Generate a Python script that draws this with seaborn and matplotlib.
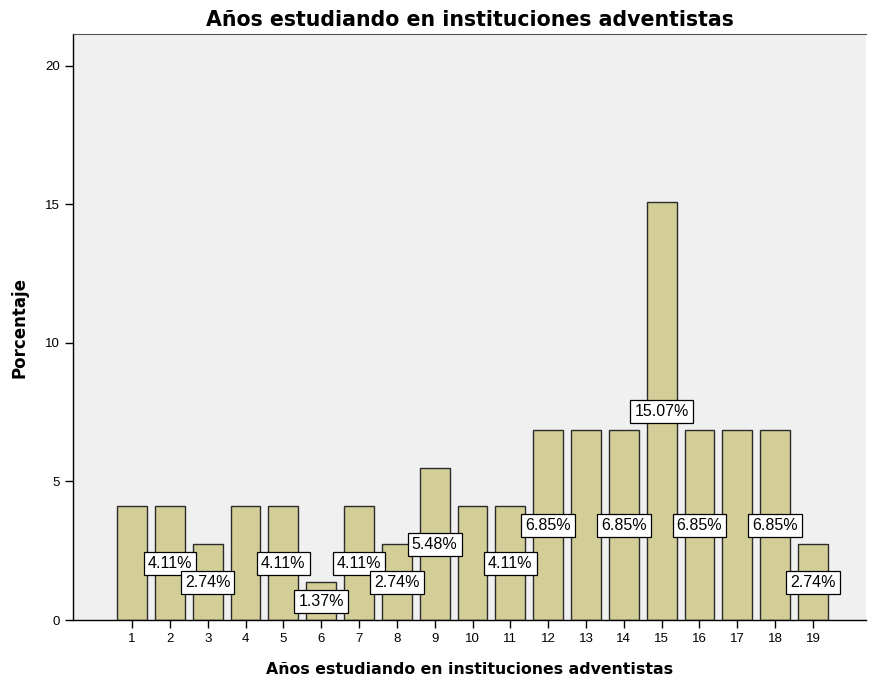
import matplotlib
matplotlib.use("Agg")
import matplotlib.pyplot as plt
import seaborn as sns
import pandas as pd

# datos
anios = [str(i) for i in range(1, 20)]
porcentaje = [4.11, 4.11, 2.74, 4.11, 4.11, 1.37, 4.11, 2.74, 5.48, 4.11,
              4.11, 6.85, 6.85, 6.85, 15.07, 6.85, 6.85, 6.85, 2.74]
# etiquetas que SPSS dejo visibles
con_etiqueta = ["2", "3", "5", "6", "7", "8", "9", "11", "12", "14",
                "15", "16", "18", "19"]

df = pd.DataFrame({"anios": anios, "porcentaje": porcentaje})

sns.set_style("white")
plt.rcParams["font.family"] = ["Liberation Sans", "DejaVu Sans"]
plt.rcParams["text.color"] = "black"
plt.rcParams["axes.labelcolor"] = "black"

fig = plt.figure(figsize=(8.69, 6.86), dpi=100)
ax = fig.add_axes([0.084, 0.0962, 0.9125, 0.8542])
ax.set_facecolor("#F0F0F0")

sns.barplot(data=df, x="anios", y="porcentaje", color="#D3CE97",
            saturation=1, width=0.79, edgecolor="#2b2b2b", linewidth=1,
            ax=ax)

for i, (a, v) in enumerate(zip(anios, porcentaje)):
    if a in con_etiqueta:
        ax.text(i, v / 2, f"{v:.2f}%", ha="center", va="center", fontsize=11.5,
                color="black",
                bbox=dict(boxstyle="square,pad=0.25", fc="white", ec="black", lw=0.9))

ax.set_xlim(-1.56, 19.4)
ax.set_ylim(0, 21.15)
ax.set_yticks([0, 5, 10, 15, 20])
ax.tick_params(axis="both", direction="out", length=6, width=1, colors="black",
               labelsize=9.5, left=True, bottom=True)
for s in ["left", "bottom"]:
    ax.spines[s].set_color("black")
    ax.spines[s].set_linewidth(1)
ax.spines["top"].set_color("#555555")
ax.spines["right"].set_visible(False)

ax.set_xlabel("Años estudiando en instituciones adventistas", fontsize=11.3,
              fontweight="bold", family="DejaVu Sans", labelpad=12)
ax.set_ylabel("Porcentaje", fontsize=12, fontweight="bold",
              family="DejaVu Sans", labelpad=12)
ax.set_title("Años estudiando en instituciones adventistas", fontsize=14.8,
             fontweight="bold", family="DejaVu Sans", color="black", pad=6)

fig.savefig("out.png", dpi=100)
